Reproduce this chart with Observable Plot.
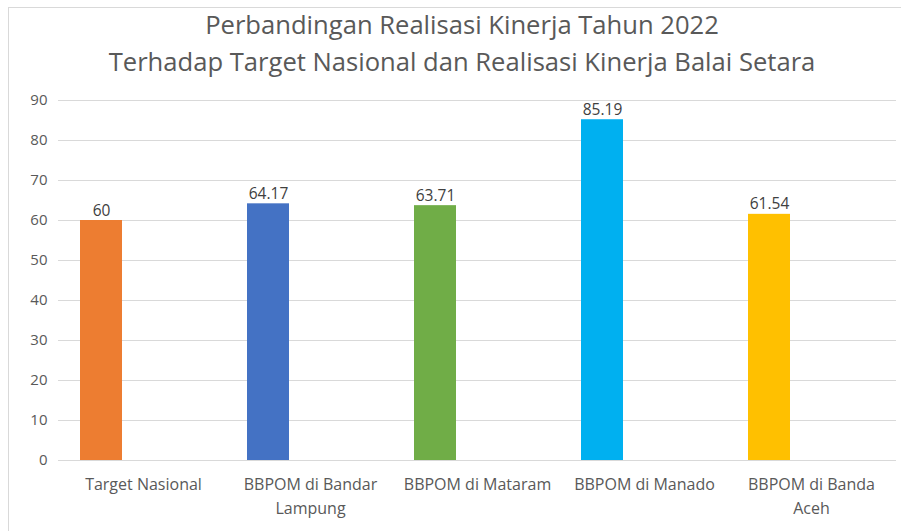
<!DOCTYPE html>
<html>
<head>
<meta charset="utf-8">
<script src="https://cdn.jsdelivr.net/npm/d3@7"></script>
<script src="https://cdn.jsdelivr.net/npm/@observablehq/plot@0.6"></script>
<style>
  html, body { margin: 0; padding: 0; background: #fff; }
  #wrap { position: relative; width: 901px; height: 531px; overflow: hidden; font-family: "Open Sans", sans-serif; }
  #frame { position: absolute; left: 8px; top: 7px; width: 900px; height: 540px; border: 1px solid #d9d9d9; box-sizing: border-box; }
  #title { position: absolute; left: 24px; top: 6px; width: 876px; text-align: center; color: #595959; font-size: 25.6px; line-height: 37px; white-space: nowrap; }
  #chart { position: absolute; left: 0; top: 80px; width: 901px; }
  #chart svg { max-width: none; }
</style>
</head>
<body>
<div id="wrap">
  <div id="frame"></div>
  <div id="title">Perbandingan Realisasi Kinerja Tahun 2022<br>Terhadap Target Nasional dan Realisasi Kinerja Balai Setara</div>
  <div id="chart"></div>
</div>
<script>
const categories = ["Target Nasional", "BBPOM di Bandar Lampung", "BBPOM di Mataram", "BBPOM di Manado", "BBPOM di Banda Aceh"];
const tickLabels = ["Target Nasional", "BBPOM di Bandar\nLampung", "BBPOM di Mataram", "BBPOM di Manado", "BBPOM di Banda\nAceh"];
const values = [60, 64.17, 63.71, 85.19, 61.54];
const valueLabels = ["60", "64.17", "63.71", "85.19", "61.54"];
const colors = ["#ED7D31", "#4472C4", "#70AD47", "#00B0F0", "#FFC000"];
const yTicks = [0, 10, 20, 30, 40, 50, 60, 70, 80, 90];

const data = categories.map((c, i) => ({ category: c, value: values[i], label: valueLabels[i], color: colors[i] }));

const chart = Plot.plot({
  width: 901,
  height: 451,
  marginTop: 20,
  marginBottom: 71,
  marginLeft: 58,
  marginRight: 5,
  style: { fontFamily: "Open Sans, sans-serif", background: "transparent" },
  x: { domain: categories, paddingInner: 0.75, paddingOuter: 0.375, label: null },
  y: { domain: [0, 90], label: null },
  marks: [
    Plot.gridY(yTicks, { stroke: "#d9d9d9", strokeOpacity: 1, strokeWidth: 1 }),
    Plot.axisY(yTicks, { tickSize: 0, tickPadding: 11, fontSize: 15, fill: "#595959", label: null }),
    Plot.axisX({ tickSize: 0, tickPadding: 12, fontSize: 16, fill: "#595959", lineHeight: 1.5, lineAnchor: "top",
      tickFormat: (d) => tickLabels[categories.indexOf(d)], label: null }),
    Plot.barY(data, { x: "category", y: "value", fill: "color", dx: -42 }),
    Plot.text(data, { x: "category", y: "value", text: "label", dx: -42, dy: -5, lineAnchor: "bottom", fontSize: 15.5, fill: "#404040" })
  ]
});
document.getElementById("chart").appendChild(chart);
</script>
</body>
</html>
